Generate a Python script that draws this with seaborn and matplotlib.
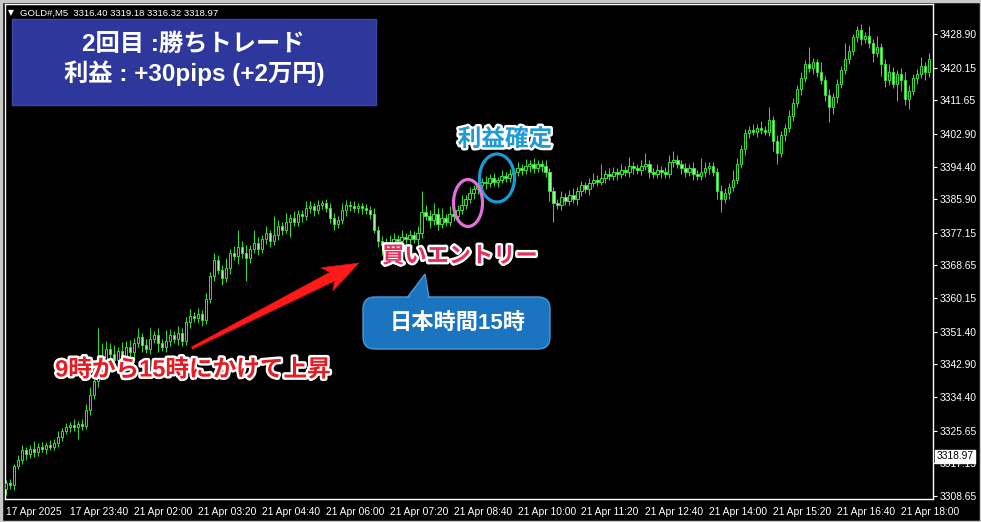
import numpy as np
import pandas as pd
import seaborn as sns
import matplotlib
matplotlib.use("Agg")
import matplotlib.pyplot as plt
import matplotlib.patches as mpatches
import matplotlib.patheffects as pe
from matplotlib.transforms import IdentityTransform, blended_transform_factory

# ---------------- data ----------------
first_open = 3310.5
closes = [
    3312.0, 3311.5, 3316.5, 3318.0, 3320.5, 3319.5, 3321.0, 3320.0,
    3321.5, 3321.0, 3322.0, 3321.5, 3322.5, 3324.0, 3325.5, 3326.5,
    3327.0, 3326.5, 3327.5, 3326.8, 3331.0, 3335.0, 3338.5, 3345.0,
    3344.0, 3347.0, 3345.5, 3344.0, 3346.5, 3345.0, 3347.5, 3346.0,
    3348.5, 3350.0, 3348.0, 3347.0, 3349.5, 3350.5, 3348.5, 3347.5,
    3349.0, 3350.5, 3349.5, 3351.0, 3349.0, 3354.0, 3355.5, 3355.0,
    3356.0, 3354.5, 3360.0, 3366.0, 3370.0, 3367.5, 3365.5, 3368.0,
    3372.0, 3371.0, 3373.5, 3372.0, 3370.5, 3373.0, 3374.5, 3373.0,
    3375.5, 3377.0, 3375.0, 3376.5, 3379.0, 3378.0, 3380.0, 3381.0,
    3380.0, 3382.0, 3381.5, 3383.5, 3384.0, 3383.0, 3384.5, 3385.0,
    3383.5, 3381.0, 3379.5, 3380.5, 3383.0, 3384.5, 3384.0, 3383.5,
    3384.0, 3383.5, 3383.0, 3382.0, 3378.0, 3375.0, 3374.0, 3372.5,
    3374.0, 3375.5, 3375.0, 3376.0, 3375.5, 3376.5, 3375.5, 3377.0,
    3382.5, 3381.5, 3380.5, 3382.0, 3379.5, 3381.0, 3380.0, 3382.0,
    3381.5, 3383.0, 3384.5, 3386.0, 3387.5, 3388.5, 3389.5, 3390.5,
    3390.0, 3391.5, 3390.5, 3391.0, 3392.0, 3391.5, 3392.5, 3393.0,
    3394.0, 3393.5, 3394.5, 3395.0, 3394.0, 3395.0, 3394.5, 3393.0,
    3388.0, 3385.0, 3384.5, 3386.5, 3385.5, 3387.0, 3386.0, 3388.0,
    3389.5, 3388.5, 3390.0, 3391.0, 3390.5, 3391.5, 3392.5, 3392.0,
    3393.0, 3392.5, 3393.5, 3393.0, 3394.5, 3394.0, 3393.5, 3394.5,
    3395.0, 3393.0, 3392.5, 3393.5, 3393.0, 3392.5, 3395.5, 3396.0,
    3395.0, 3394.0, 3393.0, 3394.0, 3392.5, 3392.0, 3393.0, 3394.0,
    3394.5, 3393.0, 3388.0, 3386.0, 3387.5, 3389.0, 3391.0, 3395.0,
    3399.0, 3403.0, 3404.0, 3403.5, 3404.5, 3404.0, 3403.5, 3406.5,
    3401.0, 3398.0, 3402.5, 3404.5, 3407.5, 3411.0, 3414.5, 3417.5,
    3421.0, 3420.0, 3421.5, 3419.0, 3417.0, 3413.0, 3410.0, 3412.5,
    3416.0, 3419.5, 3422.5, 3424.5, 3428.0, 3430.0, 3427.5, 3428.5,
    3426.5, 3424.0, 3425.5, 3421.0, 3417.0, 3419.0, 3416.0, 3418.5,
    3417.0, 3412.0, 3414.0, 3417.5, 3418.5, 3420.5, 3419.0, 3422.5,
]
upper_wick = [
    0.8, 1.0, 0.6, 1.2, 1.5, 0.8, 1.0, 2.0, 0.9, 1.3, 0.7, 1.1, 0.9, 1.6, 0.8, 1.2,
    1.0, 1.8, 0.7, 1.2, 1.5, 2.0, 1.0, 7.5, 3.5, 2.0, 1.5, 2.5, 1.0, 2.2, 1.4, 1.8,
    1.2, 2.5, 1.0, 1.6, 3.0, 1.2, 2.0, 1.0, 2.8, 1.5, 1.0, 2.0, 1.5, 1.2, 1.8, 1.0,
    1.5, 1.0, 1.5, 1.0, 2.0, 1.5, 1.2, 2.5, 1.0, 1.8, 4.5, 1.5, 2.0, 1.0, 3.5, 1.5,
    1.2, 2.0, 1.0, 5.0, 1.5, 1.0, 2.2, 1.0, 1.8, 1.2, 1.0, 2.0, 1.5, 1.0, 1.2, 0.8,
    1.0, 1.5, 1.2, 1.0, 1.8, 1.2, 0.8, 1.5, 1.0, 0.8, 1.2, 1.0, 1.5, 1.0, 1.2, 1.8,
    2.5, 1.5, 1.0, 2.0, 1.2, 1.5, 1.0, 2.0, 5.5, 2.0, 1.5, 3.0, 1.5, 2.5, 1.0, 2.0,
    1.2, 1.5, 2.5, 1.0, 1.5, 1.2, 2.0, 1.0, 1.5, 1.0, 1.2, 0.8, 1.5, 1.0, 1.2, 1.0,
    1.5, 1.0, 1.8, 1.0, 1.5, 1.2, 1.0, 1.5, 1.0, 1.2, 1.0, 1.5, 1.0, 1.2, 1.8, 1.0,
    1.2, 1.0, 1.5, 1.8, 1.2, 3.5, 1.0, 1.5, 1.2, 1.0, 1.5, 1.0, 2.5, 1.2, 1.0, 1.5,
    3.0, 1.2, 1.0, 1.5, 1.0, 1.2, 2.0, 2.5, 1.5, 1.0, 1.2, 1.0, 1.5, 1.0, 3.5, 1.5,
    1.2, 1.0, 1.0, 1.5, 1.2, 1.0, 2.5, 1.5, 1.0, 1.2, 1.0, 1.5, 1.0, 1.8, 1.0, 3.5,
    1.0, 1.5, 1.2, 1.0, 1.5, 1.2, 1.0, 1.5, 1.0, 4.5, 1.2, 1.0, 2.5, 1.0, 1.5, 1.0,
    1.2, 1.0, 4.0, 1.5, 1.0, 1.0, 1.5, 1.0, 2.5, 1.2, 3.0, 1.0, 1.5, 2.0, 1.2, 1.0,
    1.5, 2.0, 1.5, 1.0, 1.2, 2.5, 1.0, 1.5,
]
lower_wick = [
    1.5, 1.0, 1.2, 0.8, 1.0, 1.5, 0.9, 1.2, 1.0, 0.8, 1.5, 1.0, 0.9, 1.2, 1.0, 0.8,
    1.2, 1.0, 3.0, 1.0, 0.8, 1.2, 1.0, 1.5, 2.0, 1.2, 3.0, 1.5, 1.0, 2.0, 1.2, 1.5,
    1.5, 1.0, 2.0, 1.2, 1.5, 1.0, 2.5, 1.0, 1.5, 1.2, 1.0, 1.5, 1.2, 1.0, 1.5, 1.0,
    1.2, 1.5, 1.0, 1.2, 1.5, 1.0, 2.0, 1.2, 1.5, 1.0, 2.0, 1.5, 6.0, 1.2, 1.0, 1.5,
    1.0, 1.2, 1.5, 1.0, 1.2, 1.5, 1.0, 4.0, 1.2, 1.0, 1.5, 1.0, 1.2, 1.5, 1.0, 1.2,
    1.0, 1.2, 1.5, 1.2, 1.0, 1.5, 1.2, 1.0, 1.2, 1.5, 1.0, 1.2, 1.0, 1.5, 2.5, 1.2,
    1.5, 1.0, 1.2, 1.5, 1.0, 1.2, 1.0, 1.5, 1.2, 1.0, 2.0, 1.2, 1.5, 1.0, 1.2, 1.0,
    1.2, 1.5, 1.0, 1.2, 1.0, 1.5, 1.2, 1.0, 1.5, 1.0, 1.2, 1.5, 1.0, 1.2, 1.0, 1.5,
    1.0, 1.2, 1.0, 1.5, 1.2, 1.0, 1.5, 1.2, 2.5, 5.0, 1.2, 1.5, 1.0, 1.2, 1.0, 1.5,
    1.2, 1.0, 1.5, 1.0, 1.2, 1.0, 1.5, 1.2, 1.0, 1.5, 1.2, 1.0, 1.2, 1.5, 1.0, 1.2,
    1.0, 1.5, 1.2, 1.0, 1.5, 1.2, 1.0, 1.2, 1.0, 1.5, 1.2, 1.0, 1.5, 1.2, 1.0, 1.2,
    1.5, 1.0, 2.0, 3.5, 1.2, 1.5, 1.0, 1.2, 1.0, 1.5, 1.2, 1.0, 1.5, 1.2, 1.0, 1.2,
    2.5, 3.0, 1.2, 1.5, 1.0, 1.2, 1.0, 1.5, 1.2, 1.0, 1.5, 1.2, 1.0, 1.5, 4.0, 2.0,
    1.5, 1.2, 1.0, 1.5, 1.0, 1.2, 1.5, 1.0, 1.2, 2.5, 1.0, 3.0, 2.0, 1.5, 1.2, 4.5,
    3.0, 1.5, 2.5, 1.0, 1.5, 1.0, 2.0, 1.2,
]
ytick_values = [3308.65, 3317.15, 3325.65, 3334.40, 3342.90, 3351.40, 3360.15,
                3368.65, 3377.15, 3385.90, 3394.40, 3402.90, 3411.65, 3420.15, 3428.90]
xtick_bars = [0, 16, 32, 48, 64, 80, 96, 112, 128, 144, 160, 176, 192, 208, 224]
xtick_labels = ["17 Apr 2025", "17 Apr 23:40", "21 Apr 02:00", "21 Apr 03:20",
                "21 Apr 04:40", "21 Apr 06:00", "21 Apr 07:20", "21 Apr 08:40",
                "21 Apr 10:00", "21 Apr 11:20", "21 Apr 12:40", "21 Apr 14:00",
                "21 Apr 15:20", "21 Apr 16:40", "21 Apr 18:00"]
current_price = 3318.97
header = "GOLD#,M5  3316.40 3319.18 3316.32 3318.97"

opens = [first_open] + closes[:-1]
df = pd.DataFrame({"open": opens, "close": closes,
                   "uw": upper_wick, "lw": lower_wick})
df["bar"] = np.arange(len(df))
df["top"] = df[["open", "close"]].max(axis=1)
df["bot"] = df[["open", "close"]].min(axis=1)
df["high"] = df["top"] + df["uw"]
df["low"] = df["bot"] - df["lw"]
df["bull"] = df["close"] >= df["open"]

# ---------------- style ----------------
sns.set_theme(style="dark", rc={"axes.facecolor": "black", "figure.facecolor": "black",
                                 "axes.grid": False})
plt.rcParams["font.family"] = ["Liberation Sans", "DejaVu Sans"]

W, H = 981, 522
fig = plt.figure(figsize=(W / 100, H / 100), dpi=100)
ax = fig.add_axes([5 / W, (H - 499) / H, 928 / W, 495 / H])
ax.set_facecolor("black")

edge = "#36e036"
bear_fill = "#a2f2a2"

ax.vlines(df["bar"], df["low"], df["high"], color=edge, linewidth=0.7, zorder=2)
heights = (df["top"] - df["bot"]).clip(lower=0.2)
fills = [("black" if b else bear_fill) for b in df["bull"]]
ax.bar(df["bar"], heights, bottom=df["bot"], width=0.6, color=fills,
       edgecolor=edge, linewidth=0.7, zorder=3)

ax.set_xlim(-0.3, 232)
ax.set_ylim(3307.87, 3436.7)

for s in ax.spines.values():
    s.set_color("white")
    s.set_linewidth(1.0)

ax.yaxis.tick_right()
ax.set_yticks(ytick_values)
ax.set_yticklabels([f"{v:.2f}" for v in ytick_values])
ax.set_xticks(xtick_bars)
ax.set_xticklabels(xtick_labels)
ax.tick_params(axis="both", colors="white", labelcolor="white", labelsize=7.4,
               length=3, width=0.8, direction="out")
ax.tick_params(axis="x", pad=3)
ax.tick_params(axis="y", pad=2)
for lab in ax.get_xticklabels():
    lab.set_ha("left")

# current price tag
tr = blended_transform_factory(ax.transAxes, ax.transData)
ax.text(1.004, current_price, f"{current_price:.2f}", transform=tr, ha="left",
        va="center", fontsize=7.4, color="black", zorder=10,
        bbox=dict(boxstyle="square,pad=0.12", fc="white", ec="white"))

# header
def P(x, y):
    return (x, H - y)

ID = IdentityTransform()
fig.text(*P(8, 13), "\u25bc", transform=ID, fontsize=5.5, color="white",
         va="center", ha="left", family=["DejaVu Sans"])
fig.text(*P(20, 13), header, transform=ID, fontsize=6.8, color="white",
         va="center", ha="left")

# window border
fig.add_artist(mpatches.Rectangle((0.5, 0.5), W - 1, H - 1, transform=ID,
                                  fill=False, ec="#c8c8c8", lw=2.5))

jp = ["Noto Sans CJK JP", "DejaVu Sans"]
mix = ["Liberation Sans", "Noto Sans CJK JP", "DejaVu Sans"]

# title box
fig.add_artist(mpatches.Rectangle(P(12, 105), 364, 86, transform=ID,
                                  fc="#2e389c", ec="#3a46aa", lw=1, zorder=20))
fig.text(*P(193, 44), "2回目 :勝ちトレード", transform=ID, family=mix,
         fontweight="bold", fontsize=17.5, color="white", ha="center",
         va="center", zorder=21)
fig.text(*P(194, 73), "利益 : +30pips (+2万円)", transform=ID, family=mix,
         fontweight="bold", fontsize=17.5, color="white", ha="center",
         va="center", zorder=21)

stroke = [pe.withStroke(linewidth=3.5, foreground="white")]

# 利益確定
fig.text(*P(505, 139), "利益確定", transform=ID, family=jp, fontweight="bold",
         fontsize=17, color="#1e9ad6", ha="center", va="center", zorder=21,
         path_effects=stroke)

# ellipses
fig.add_artist(mpatches.Ellipse(P(497, 178), 35, 48, transform=ID, fill=False,
                                ec="#1a9ad6", lw=2.3, zorder=21))
fig.add_artist(mpatches.Ellipse(P(468, 203), 29, 47, transform=ID, fill=False,
                                ec="#e070d8", lw=2.3, zorder=21))

# 買いエントリー
fig.text(*P(460, 256), "買いエントリー", transform=ID, family=jp,
         fontweight="bold", fontsize=16, color="#e8305e", ha="center",
         va="center", zorder=21, path_effects=stroke)

# callout
bubble_fc = "#1a74bf"
bubble_ec = "#4a9ad6"
ptr = [P(407, 298), P(425, 274), P(429, 298)]
fig.add_artist(mpatches.Polygon(ptr, closed=True, transform=ID, fc=bubble_fc,
                                ec=bubble_ec, lw=1, zorder=20))
fig.add_artist(mpatches.FancyBboxPatch(P(363, 349), 187, 52, transform=ID,
                                       boxstyle="round,pad=0,rounding_size=12",
                                       fc=bubble_fc, ec=bubble_ec, lw=1, zorder=21))
fig.add_artist(mpatches.Polygon([P(408, 300), P(425, 276), P(428, 300)],
                                closed=True, transform=ID, fc=bubble_fc,
                                ec="none", zorder=22))
fig.text(*P(458, 323), "日本時間15時", transform=ID, family=mix,
         fontweight="bold", fontsize=16, color="white", ha="center",
         va="center", zorder=23)

# red arrow
tail = np.array(P(192, 348), dtype=float)
tip = np.array(P(359, 263), dtype=float)
u = (tip - tail) / np.linalg.norm(tip - tail)
n = np.array([-u[1], u[0]])
base = tip - u * 30
wing = tip - u * 36
poly = [tail + n * 1.2, base + n * 5, wing + n * 13, tip,
        wing - n * 13, base - n * 5, tail - n * 1.2]
fig.add_artist(mpatches.Polygon(poly, closed=True, transform=ID, fc="#ff1a1a",
                                ec="#e01010", lw=0.5, zorder=21))

# 9時から15時にかけて上昇
fig.text(*P(193, 370), "9時から15時にかけて上昇", transform=ID, family=mix,
         fontweight="bold", fontsize=17, color="#e41c24", ha="center",
         va="center", zorder=21, path_effects=stroke)

fig.savefig("out.png", dpi=100, facecolor="black")
